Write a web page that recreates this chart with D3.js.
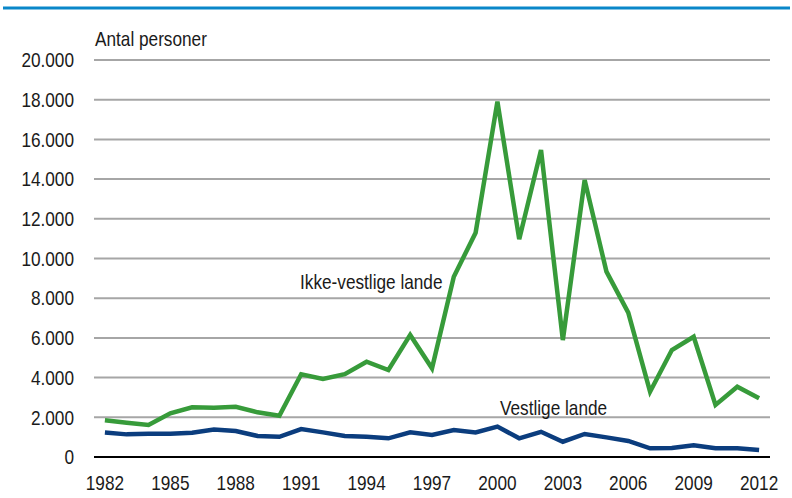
<!DOCTYPE html>
<html>
<head>
<meta charset="utf-8">
<script src="https://cdn.jsdelivr.net/npm/d3@7"></script>
<style>
  html, body { margin: 0; padding: 0; background: #fff; }
  svg { display: block; font-family: "Liberation Sans", Arial, sans-serif; }
</style>
</head>
<body>
<svg id="chart" width="792" height="498"></svg>
<script>
// Years on the x axis
const years = d3.range(1982, 2013);
// Labelled years
const yearTicks = [1982, 1985, 1988, 1991, 1994, 1997, 2000, 2003, 2006, 2009, 2012];
// Immigrants from non-western countries
const ikkeVestlige = [1850, 1730, 1610, 2200, 2500, 2480, 2530, 2250, 2080, 4170,
  3930, 4170, 4800, 4380, 6150, 4470, 9080, 11300, 17900, 10970,
  15470, 5890, 13950, 9340, 7270, 3290, 5390, 6060, 2620, 3540, 2960];
// Immigrants from western countries
const vestlige = [1230, 1140, 1170, 1170, 1220, 1390, 1310, 1060, 1020, 1410,
  1240, 1060, 1020, 940, 1240, 1110, 1360, 1240, 1530, 940,
  1270, 770, 1160, 990, 810, 440, 450, 590, 440, 440, 350];
// Value axis ticks
const yTicks = d3.range(0, 20001, 2000);

const FONT = '"Liberation Sans", Arial, sans-serif';
const FS = 21;
const SX = 0.82;          // narrow letterforms: horizontal squeeze
const INK = "#1a1a1a";

const svg = d3.select("#chart");
const plotLeft = 94, plotRight = 770, plotTop = 60, plotBottom = 457;

const x = d3.scaleBand().domain(years).range([plotLeft, plotRight]);
const xc = d => x(d) + x.bandwidth() / 2;
const y = d3.scaleLinear().domain([0, 20000]).range([plotBottom, plotTop]);
const fmt = v => d3.format(",")(v).replace(/,/g, ".");

// top rule
svg.append("line").attr("x1", 3).attr("x2", 790).attr("y1", 8).attr("y2", 8)
  .attr("stroke", "#0a87c9").attr("stroke-width", 3);

// horizontal gridlines
svg.append("g").selectAll("line").data(yTicks.filter(v => v > 0)).join("line")
  .attr("x1", plotLeft).attr("x2", plotRight)
  .attr("y1", d => y(d)).attr("y2", d => y(d))
  .attr("stroke", "#a6a6a6").attr("stroke-width", 2);

// squeeze axis text horizontally while keeping its anchor point
function narrow(sel) {
  sel.each(function () {
    const t = d3.select(this);
    const x0 = +t.attr("x") || 0;
    t.attr("x", x0 / SX).attr("transform", `scale(${SX},1)`);
  });
}

// y axis labels
const yAxis = d3.axisLeft(y).tickValues(yTicks).tickFormat(fmt).tickSize(0).tickPadding(20);
const gy = svg.append("g").attr("transform", `translate(${plotLeft},0)`).call(yAxis);
gy.select(".domain").remove();
gy.selectAll("text").attr("font-size", FS).attr("fill", INK).attr("font-family", FONT).call(narrow);

// x axis labels
const xAxis = d3.axisBottom(x).tickValues(yearTicks).tickSize(0).tickPadding(18);
const gx = svg.append("g").attr("transform", `translate(0,${plotBottom})`).call(xAxis);
gx.select(".domain").remove();
gx.selectAll("text").attr("font-size", FS).attr("fill", INK).attr("font-family", FONT).call(narrow);

// zero baseline
svg.append("line").attr("x1", plotLeft).attr("x2", plotRight)
  .attr("y1", y(0)).attr("y2", y(0)).attr("stroke", "#000").attr("stroke-width", 2);

const line = d3.line().x((d, i) => xc(years[i])).y(d => y(d));

svg.append("path").datum(ikkeVestlige).attr("d", line)
  .attr("fill", "none").attr("stroke", "#379b3a").attr("stroke-width", 4.5)
  .attr("stroke-linejoin", "miter");
svg.append("path").datum(vestlige).attr("d", line)
  .attr("fill", "none").attr("stroke", "#0b3d7e").attr("stroke-width", 4.5)
  .attr("stroke-linejoin", "miter");

// titles and series labels
const label = (tx, ty, s) => svg.append("text")
  .attr("transform", `translate(${tx},${ty}) scale(${SX},1)`)
  .attr("font-size", FS).attr("font-family", FONT).attr("fill", INK).text(s);
label(95, 46, "Antal personer");
label(300, 289, "Ikke-vestlige lande");
label(500, 415, "Vestlige lande");
</script>
</body>
</html>
